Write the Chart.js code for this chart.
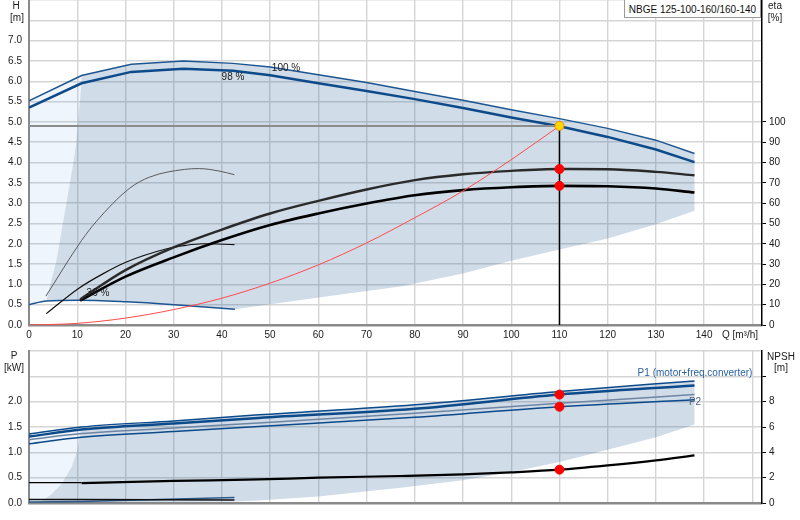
<!DOCTYPE html>
<html><head>
<meta charset="utf-8">
<style>
  body { margin: 0; background: #fff; font-family: "Liberation Sans", Arial, sans-serif; }
  #wrap { position: relative; width: 800px; height: 520px; overflow: hidden; }
  canvas { position: absolute; left: 0; }
  .lbl { position: absolute; font-size: 10px; color: #1a1a1a; white-space: nowrap; line-height: 11px; transform: translate(-50%, -50%); }
  #model { position: absolute; left: 624px; top: -1px; width: 137px; height: 19px; border: 1px solid #9a9a9a; background: #fff;
           font-size: 10px; line-height: 19px; text-align: center; color: #111; box-sizing: border-box; }
</style>
<script src="https://cdn.jsdelivr.net/npm/chart.js@4.4.1/dist/chart.umd.min.js"></script>
</head>
<body>
<div id="wrap">
  <canvas id="headChart" width="800" height="345" style="top:0"></canvas>
  <canvas id="powerChart" width="800" height="180" style="top:340px"></canvas>

  <div id="model">NBGE 125-100-160/160-140</div>
  <span class="lbl" style="left:16px;top:5px">H</span>
  <span class="lbl" style="left:17px;top:17px">[m]</span>
  <span class="lbl" style="left:775px;top:5px">eta</span>
  <span class="lbl" style="left:775px;top:17px">[%]</span>
  <span class="lbl" style="left:286px;top:67px">100 %</span>
  <span class="lbl" style="left:233px;top:76px">98 %</span>
  <span class="lbl" style="left:98px;top:292px">36 %</span>
  <span class="lbl" style="left:740px;top:334px">Q [m³/h]</span>

  <span class="lbl" style="left:14px;top:355px">P</span>
  <span class="lbl" style="left:14px;top:367px">[kW]</span>
  <span class="lbl" style="left:781px;top:356px">NPSH</span>
  <span class="lbl" style="left:781px;top:367px">[m]</span>
  <span class="lbl" style="left:695px;top:372px;color:#2a62a0">P1 (motor+freq.converter)</span>
  <span class="lbl" style="left:695px;top:401px;color:#4a6688">P2</span>
</div>

<script>
// ---- axis ticks
var qTicks = [0, 10, 20, 30, 40, 50, 60, 70, 80, 90, 100, 110, 120, 130, 140, 150];
var hTicks = [0, 0.5, 1, 1.5, 2, 2.5, 3, 3.5, 4, 4.5, 5, 5.5, 6, 6.5, 7, 7.5, 8];
var etaTicks = [0, 10, 20, 30, 40, 50, 60, 70, 80, 90, 100];
var pTicks = [0, 0.5, 1, 1.5, 2, 2.5, 3];
var npshTicks = [0, 2, 4, 6, 8, 10];

// ---- head curves (Q m3/h, H m)
var qH = [0, 10.9, 21.2, 32, 42.3, 50, 60, 70, 80, 90, 100, 110, 120, 130, 138];
var h100 = [5.52, 6.14, 6.42, 6.50, 6.44, 6.35, 6.16, 5.97, 5.75, 5.53, 5.30, 5.08, 4.84, 4.55, 4.22];
var h98 = [5.35, 5.95, 6.23, 6.31, 6.26, 6.15, 5.95, 5.76, 5.56, 5.34, 5.11, 4.89, 4.63, 4.32, 4.01];
var q36 = [0, 3.6, 10.2, 20.2, 30.1, 42.7];
var h36 = [0.50, 0.59, 0.61, 0.57, 0.50, 0.39];

// ---- efficiency curves (%)
var qEta = [10.6, 20, 30, 40, 50, 60, 70, 80, 90, 100, 110, 120, 130, 138];
var etaPump = [12.6, 27.0, 38.2, 47.0, 54.9, 61.1, 66.7, 71.3, 74.2, 75.9, 76.8, 76.7, 75.4, 73.7];
var etaTotal = [12.0, 23.8, 33.3, 41.8, 49.2, 54.9, 59.8, 63.9, 66.4, 67.8, 68.5, 68.3, 67.2, 65.2];
var qEtaPump36 = [3.5, 10.9, 13.9, 20.8, 25, 32.2, 35.3, 39.4, 42.6];
var etaPump36 = [14.2, 41.6, 50.8, 67.2, 72.8, 76.6, 77.0, 75.8, 74.0];
var qEtaTotal36 = [3.6, 10.2, 15.4, 20.2, 28.4, 32.5, 36, 42.6];
var etaTotal36 = [5.6, 17.9, 25.3, 31.0, 37.4, 39.2, 40.0, 39.6];

// ---- system curve + duty point
var qSys = [0, 10, 20, 30, 40, 50, 60, 70, 80, 90, 100, 110];
var hSys = [0, 0.04, 0.17, 0.38, 0.66, 1.03, 1.48, 2.02, 2.64, 3.30, 4.07, 4.90];
var qDuty = 110, hDuty = 4.9, etaPumpDuty = 76.8, etaTotalDuty = 68.5;

// ---- operating range (top)
var qEdge = [10.9, 10.9, 10.3, 9.8, 9.3, 8.1, 6.9, 5.7, 4.3, 3.6];
var hEdge = [6.14, 5.95, 5.2, 4.5, 4.06, 3.24, 2.41, 1.59, 0.94, 0.59];
var qLow = [42.7, 60, 77, 90, 100, 110, 120, 130, 138];
var hLow = [0.39, 0.68, 0.95, 1.27, 1.58, 1.86, 2.13, 2.48, 2.81];

// ---- power curves (kW)
var qP = [0, 10.9, 30, 47.6, 80, 110, 138];
var p1Max = [1.36, 1.50, 1.62, 1.74, 1.94, 2.20, 2.41];
var p1Run = [1.31, 1.45, 1.57, 1.68, 1.86, 2.14, 2.32];
var p2Max = [1.25, 1.37, 1.48, 1.58, 1.77, 1.97, 2.14];
var p2Run = [1.17, 1.30, 1.41, 1.51, 1.69, 1.90, 2.04];
var qPMin = [0, 10.9, 42.6];
var p1Min = [0.07, 0.07, 0.06];
var p2Min = [0.02, 0.03, 0.11];
var p1Duty = 2.14, p2Duty = 1.90;

// ---- NPSH (m)
var qNpsh = [10.9, 30, 47.6, 60, 77, 90, 100, 110, 120, 130, 138];
var npsh = [1.57, 1.74, 1.86, 2.00, 2.13, 2.26, 2.42, 2.63, 2.97, 3.37, 3.76];
var qNpshLow = [0, 10.9];
var npshLow = [1.61, 1.61];
var npshDuty = 2.63;

// ---- operating range (bottom)
var qPEdge = [10.9, 10.5, 10.0, 8.8, 6.7, 4.6, 2.2];
var pEdge = [1.50, 1.30, 1.03, 0.70, 0.37, 0.17, 0.0];
var qPLow = [2.2, 42.6, 47.6, 60, 77, 90, 100, 110, 120, 130, 138];
var pLow = [0.0, 0.03, 0.05, 0.13, 0.30, 0.45, 0.61, 0.81, 1.05, 1.30, 1.55];

var shadeDark = 'rgba(20,80,140,0.2)';
var shadeLight = 'rgba(10,110,210,0.07)';
var gridCol = '#d5d5d5';

Chart.defaults.font.family = '"Liberation Sans", Arial, sans-serif';
Chart.defaults.font.size = 10;
Chart.defaults.color = '#1a1a1a';

function pts(qs, vs) {
  return qs.map(function (q, i) { return {x: q, y: vs[i]}; });
}
function rev(a) { return a.slice().reverse(); }

function curve(data, color, width, axis, smooth) {
  var d = {data: data, borderColor: color, borderWidth: width, yAxisID: axis,
           pointRadius: 0, fill: false, tension: 0};
  if (smooth) d.cubicInterpolationMode = 'monotone';
  return d;
}
function dots(data, axis, bg, border) {
  return {data: data, yAxisID: axis, showLine: false, pointRadius: 4.5,
          pointBackgroundColor: bg, pointBorderColor: border || bg, pointBorderWidth: 1};
}
function area(data, color, axis) {
  return {data: data, yAxisID: axis, borderWidth: 0, borderColor: 'rgba(0,0,0,0)',
          backgroundColor: color, pointRadius: 0, fill: 'shape', tension: 0};
}
function fixTicks(list) {
  return function (s) { s.ticks = list.map(function (v) { return {value: v}; }); };
}
function fixSize(prop, val) {
  return function (s) {
    s[prop] = val;
    s.paddingLeft = 0; s.paddingRight = 0; s.paddingTop = 0; s.paddingBottom = 0;
  };
}

// polygons
var topDark = pts(qH.slice(1), h100.slice(1))
  .concat(pts([138], [2.81]))
  .concat(rev(pts(qLow, hLow)))
  .concat(rev(pts(q36.slice(1, 5), h36.slice(1, 5))))
  .concat(rev(pts(qEdge.slice(0, 9), hEdge.slice(0, 9))));
var topLight = pts([0, 0, 10.9], [0.5, 5.52, 6.14])
  .concat(pts(qEdge.slice(1), hEdge.slice(1)))
  .concat(pts([0], [0.5]));
var botDark = pts(qP.slice(1), p1Max.slice(1))
  .concat(rev(pts(qPLow, pLow)))
  .concat(rev(pts(qPEdge.slice(0, 6), pEdge.slice(0, 6))));
var botLight = pts([0, 0, 10.9], [0, 1.36, 1.50])
  .concat(pts(qPEdge.slice(1), pEdge.slice(1)))
  .concat(pts([0], [0]));

var xScale = function (showLabels, h) {
  return {
    type: 'linear', min: 0, max: 152,
    afterBuildTicks: fixTicks(qTicks),
    afterFit: fixSize('height', h),
    grid: {color: gridCol, lineWidth: 1.4, drawTicks: false},
    border: {color: '#8a8a8a', width: 2.5},
    ticks: {display: showLabels, padding: 4, maxRotation: 0, autoSkip: false,
            callback: function (v) { return v <= 140 ? String(v) : ''; }}
  };
};

new Chart(document.getElementById('headChart'), {
  type: 'line',
  data: {datasets: [
    dots([{x: qDuty, y: hDuty}], 'y', '#ffd800', '#f08c00'),
    dots(pts([qDuty, qDuty], [etaPumpDuty, etaTotalDuty]), 'eta', '#ff0000'),
    curve(pts([qDuty, qDuty], [0, hDuty]), '#000000', 1.5, 'y'),
    curve(pts([0, qDuty], [hDuty, hDuty]), '#8c8c8c', 2, 'y'),
    curve(pts(qSys, hSys), '#ff4a4a', 1, 'y', true),
    curve(pts(qEta, etaPump), '#2a2a2a', 2.4, 'eta', true),
    curve(pts(qEta, etaTotal), '#000000', 2.6, 'eta', true),
    curve(pts(qEtaPump36, etaPump36), '#5a5a5a', 1, 'eta', true),
    curve(pts(qEtaTotal36, etaTotal36), '#111111', 1.2, 'eta', true),
    curve(pts(qH, h100), '#1d5591', 1.5, 'y'),
    curve(pts(qH, h98), '#0d4a8a', 2.5, 'y'),
    curve(pts(q36, h36), '#1d5591', 1.5, 'y', true),
    area(topDark, shadeDark, 'y'),
    area(topLight, shadeLight, 'y')
  ]},
  options: {
    responsive: false, animation: false, devicePixelRatio: 1,
    layout: {padding: 0, autoPadding: false},
    plugins: {legend: {display: false}, tooltip: {enabled: false}},
    scales: {
      x: xScale(true, 20),
      y: {
        position: 'left', min: 0, max: 8,
        afterBuildTicks: fixTicks(hTicks),
        afterFit: fixSize('width', 29),
        grid: {color: gridCol, lineWidth: 1.4, drawTicks: false},
        border: {color: '#8a8a8a', width: 2},
        ticks: {padding: 7, callback: function (v) { return v <= 7 ? v.toFixed(1) : ''; }}
      },
      eta: {
        position: 'right', min: 0, max: 160,
        afterBuildTicks: fixTicks(etaTicks),
        afterFit: fixSize('width', 38),
        grid: {drawOnChartArea: false, tickLength: 4, color: '#000', lineWidth: 1},
        border: {color: '#000', width: 1.5},
        ticks: {padding: 3}
      }
    }
  }
});

new Chart(document.getElementById('powerChart'), {
  type: 'line',
  data: {datasets: [
    dots(pts([qDuty, qDuty], [p1Duty, p2Duty]), 'y', '#ff0000'),
    dots([{x: qDuty, y: npshDuty}], 'npsh', '#ff0000'),
    curve(pts(qNpsh, npsh), '#000000', 2.2, 'npsh', true),
    curve(pts(qNpshLow, npshLow), '#000000', 1.2, 'npsh'),
    curve(pts(qPMin, p1Min), '#111111', 1.5, 'y'),
    curve(pts(qPMin, p2Min), '#2d5a8a', 1.5, 'y'),
    curve(pts(qP, p1Max), '#0d4a8a', 1.5, 'y', true),
    curve(pts(qP, p1Run), '#0d4a8a', 2.5, 'y', true),
    curve(pts(qP, p2Max), '#6f86a3', 1.5, 'y', true),
    curve(pts(qP, p2Run), '#0d4a8a', 1.5, 'y', true),
    area(botDark, shadeDark, 'y'),
    area(botLight, shadeLight, 'y')
  ]},
  options: {
    responsive: false, animation: false, devicePixelRatio: 1,
    layout: {padding: {top: 11, left: 0, right: 0, bottom: 0}, autoPadding: false},
    plugins: {legend: {display: false}, tooltip: {enabled: false}},
    scales: {
      x: xScale(false, 17),
      y: {
        position: 'left', min: 0, max: 3,
        afterBuildTicks: fixTicks(pTicks),
        afterFit: fixSize('width', 29),
        grid: {color: gridCol, lineWidth: 1.4, drawTicks: false},
        border: {color: '#8a8a8a', width: 2},
        ticks: {padding: 7, callback: function (v) { return v <= 2 ? v.toFixed(1) : ''; }}
      },
      npsh: {
        position: 'right', min: 0, max: 12,
        afterBuildTicks: fixTicks(npshTicks),
        afterFit: fixSize('width', 38),
        grid: {drawOnChartArea: false, tickLength: 4, color: '#000', lineWidth: 1},
        border: {color: '#000', width: 1.5},
        ticks: {padding: 3, callback: function (v) { return v <= 8 ? String(v) : ''; }}
      }
    }
  }
});
</script>
</body></html>
